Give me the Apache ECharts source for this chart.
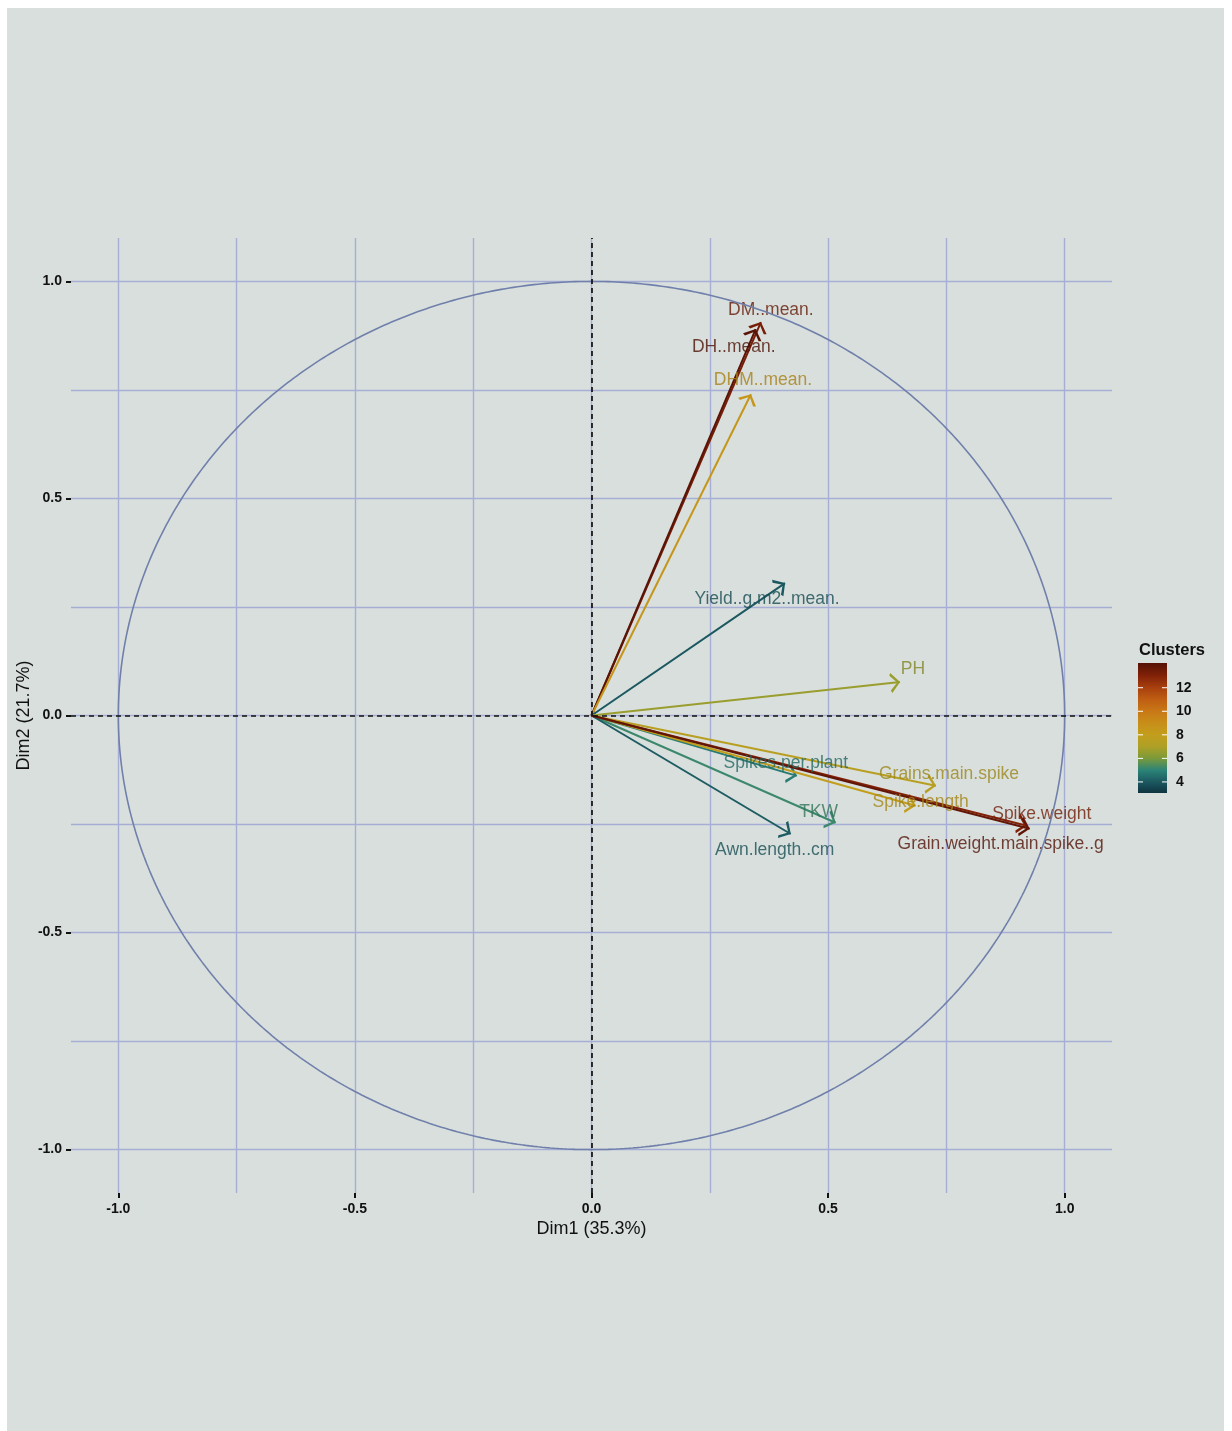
<!DOCTYPE html>
<html>
<head>
<meta charset="utf-8">
<script src="https://cdn.jsdelivr.net/npm/echarts@6/dist/echarts.min.js"></script>
<style>
html,body{margin:0;padding:0;background:#ffffff;}
#bg{position:absolute;left:7px;top:8px;width:1217px;height:1423px;background:#d9dfdd;}
#chart{position:absolute;left:0;top:0;width:1232px;height:1431px;}
</style>
</head>
<body>
<div id="bg"></div>
<div id="chart"></div>
<script>
// ---- data ----
const categories = ['DM..mean.', 'DH..mean.', 'DHM..mean.', 'Yield..g.m2..mean.', 'PH',
  'Spikes.per.plant', 'Grains.main.spike', 'Spike.length', 'TKW', 'Awn.length..cm',
  'Spike.weight', 'Grain.weight.main.spike..g'];
const dim1 = [0.358, 0.347, 0.337, 0.409, 0.652, 0.434, 0.728, 0.685, 0.516, 0.421, 0.920, 0.926];
const dim2 = [0.906, 0.890, 0.740, 0.305, 0.077, -0.139, -0.162, -0.208, -0.247, -0.273, -0.254, -0.261];
const clusters = [13.3, 14.0, 8.5, 4.0, 6.6, 4.8, 7.5, 8.0, 5.2, 4.1, 13.0, 13.8];
const axisTickValues = [-1, -0.5, 0, 0.5, 1];
const legendTickValues = [4, 6, 8, 10, 12];
const clusterMin = 3.06, clusterMax = 14.1;

// ---- styles ----
const labelOffsets = [[10,-12],[-22,18],[12,-14],[-18,16],[13,-13],[-11,-13],[13,-12],[5,-4],[-17,-11],[-16,16],[15,-12],[-29,15]];
const colorStops = [
  [3.0,'#0f3440'],[4.0,'#1b5860'],[5.0,'#2c8478'],[6.0,'#7a9a3a'],[7.0,'#aea026'],
  [8.0,'#c29e1c'],[9.0,'#c88e18'],[10.0,'#c87816'],[11.0,'#bf5e12'],[12.0,'#a8400e'],
  [13.0,'#822208'],[14.1,'#561206']];
function hex2rgb(h){return [parseInt(h.substr(1,2),16),parseInt(h.substr(3,2),16),parseInt(h.substr(5,2),16)];}
function colorFor(v, dark){
  const k = dark || 1;
  let rgb = hex2rgb(colorStops[colorStops.length-1][1]);
  if (v <= colorStops[0][0]) rgb = hex2rgb(colorStops[0][1]);
  else for (let i=1;i<colorStops.length;i++){
    if (v <= colorStops[i][0]){
      const a=colorStops[i-1], b=colorStops[i];
      const t=(v-a[0])/(b[0]-a[0]);
      const ca=hex2rgb(a[1]), cb=hex2rgb(b[1]);
      rgb=ca.map((x,j)=>x+(cb[j]-x)*t);
      break;
    }
  }
  return 'rgb('+rgb.map(x=>Math.round(x*k)).join(',')+')';
}
const gridColor = '#a6aed6';
const fontFam = '"Liberation Sans", Arial, sans-serif';

// unit correlation circle
const circle = [];
for (let a=0;a<=720;a++){const t=a/720*2*Math.PI;circle.push([Math.cos(t),Math.sin(t)]);}

const arrowPath = 'path://M5,-10 M5,0 L10,9 L8.7,10.2 L5,3 L1.3,10.2 L0,9 Z';

const chart = echarts.init(document.getElementById('chart'), null, {renderer:'canvas'});

// legend (colour bar)
const barLeft = 1138, barTop = 663, barW = 29, barH = 130;
function legendY(v){return barTop + barH - (v-clusterMin)/(clusterMax-clusterMin)*barH;}
const gradStops = colorStops.map(s=>({offset: Math.min(1,Math.max(0,1-(s[0]-clusterMin)/(clusterMax-clusterMin))), color:s[1]}))
  .sort((a,b)=>a.offset-b.offset);
const legendGraphics = [
  {type:'text', left:1139, top:642, style:{text:'Clusters', font:'bold 16.5px '+fontFam, fill:'#111'}},
  {type:'rect', shape:{x:barLeft,y:barTop,width:barW,height:barH},
   style:{fill:new echarts.graphic.LinearGradient(0,0,0,1,gradStops)}}
];
legendTickValues.forEach(v=>{
  const y = legendY(v);
  legendGraphics.push({type:'line', shape:{x1:barLeft,y1:y,x2:barLeft+5,y2:y}, style:{stroke:'#ffffff',lineWidth:1}});
  legendGraphics.push({type:'line', shape:{x1:barLeft+barW-5,y1:y,x2:barLeft+barW,y2:y}, style:{stroke:'#ffffff',lineWidth:1}});
  legendGraphics.push({type:'text', x:1176, y:y, style:{text:String(v), font:'bold 14px '+fontFam, fill:'#111', verticalAlign:'middle', align:'left'}});
});

const axisCommon = {
  type:'value', min:-1.1, max:1.1,
  axisLine:{show:false, onZero:false},
  axisTick:{show:true, length:5, customValues:axisTickValues, lineStyle:{color:'#111', width:2}},
  axisLabel:{customValues:axisTickValues, formatter:v=>v.toFixed(1), color:'#111', fontWeight:'bold', fontSize:14, fontFamily:fontFam, margin:9},
  splitLine:{show:true, lineStyle:{color:gridColor, width:1.4}},
  minorTick:{show:false, splitNumber:2},
  minorSplitLine:{show:true, lineStyle:{color:gridColor, width:1.4}},
  nameLocation:'middle',
  nameMoveOverlap:false,
  nameTextStyle:{color:'#111', fontSize:18, fontFamily:fontFam}
};

const option = {
  animation:false,
  backgroundColor:'transparent',
  grid:{left:71, right:120, top:238, bottom:238, containLabel:false},
  xAxis: Object.assign({}, axisCommon, {name:'Dim1 (35.3%)', nameGap:27}),
  yAxis: Object.assign({}, axisCommon, {name:'Dim2 (21.7%)', nameGap:38}),
  graphic: legendGraphics,
  series:[
    {
      type:'line', data:circle, showSymbol:false, silent:true,
      lineStyle:{color:'#7080ab', width:1.6},
      markLine:{silent:true, symbol:['none','none'], label:{show:false},
        lineStyle:{color:'#111', type:[5,4], width:1.7},
        data:[{xAxis:0},{yAxis:0}]}
    },
    {
      type:'lines', coordinateSystem:'cartesian2d', silent:true,
      symbol:['none', arrowPath], symbolSize:[12,20],
      lineStyle:{width:2, opacity:1},
      data: categories.map((c,i)=>({coords:[[0,0],[dim1[i],dim2[i]]], lineStyle:{color:colorFor(clusters[i])}}))
    },
    {
      type:'scatter', symbol:'circle', symbolSize:2, itemStyle:{color:'rgba(0,0,0,0)'}, silent:true,
      data: categories.map((c,i)=>({name:c, value:[dim1[i],dim2[i]],
        label:{show:true, position:'inside', offset:labelOffsets[i], formatter:c,
          color:colorFor(clusters[i], 0.85), fontSize:17.5, fontFamily:fontFam}}))
    }
  ]
};
chart.setOption(option);
</script>
</body>
</html>
